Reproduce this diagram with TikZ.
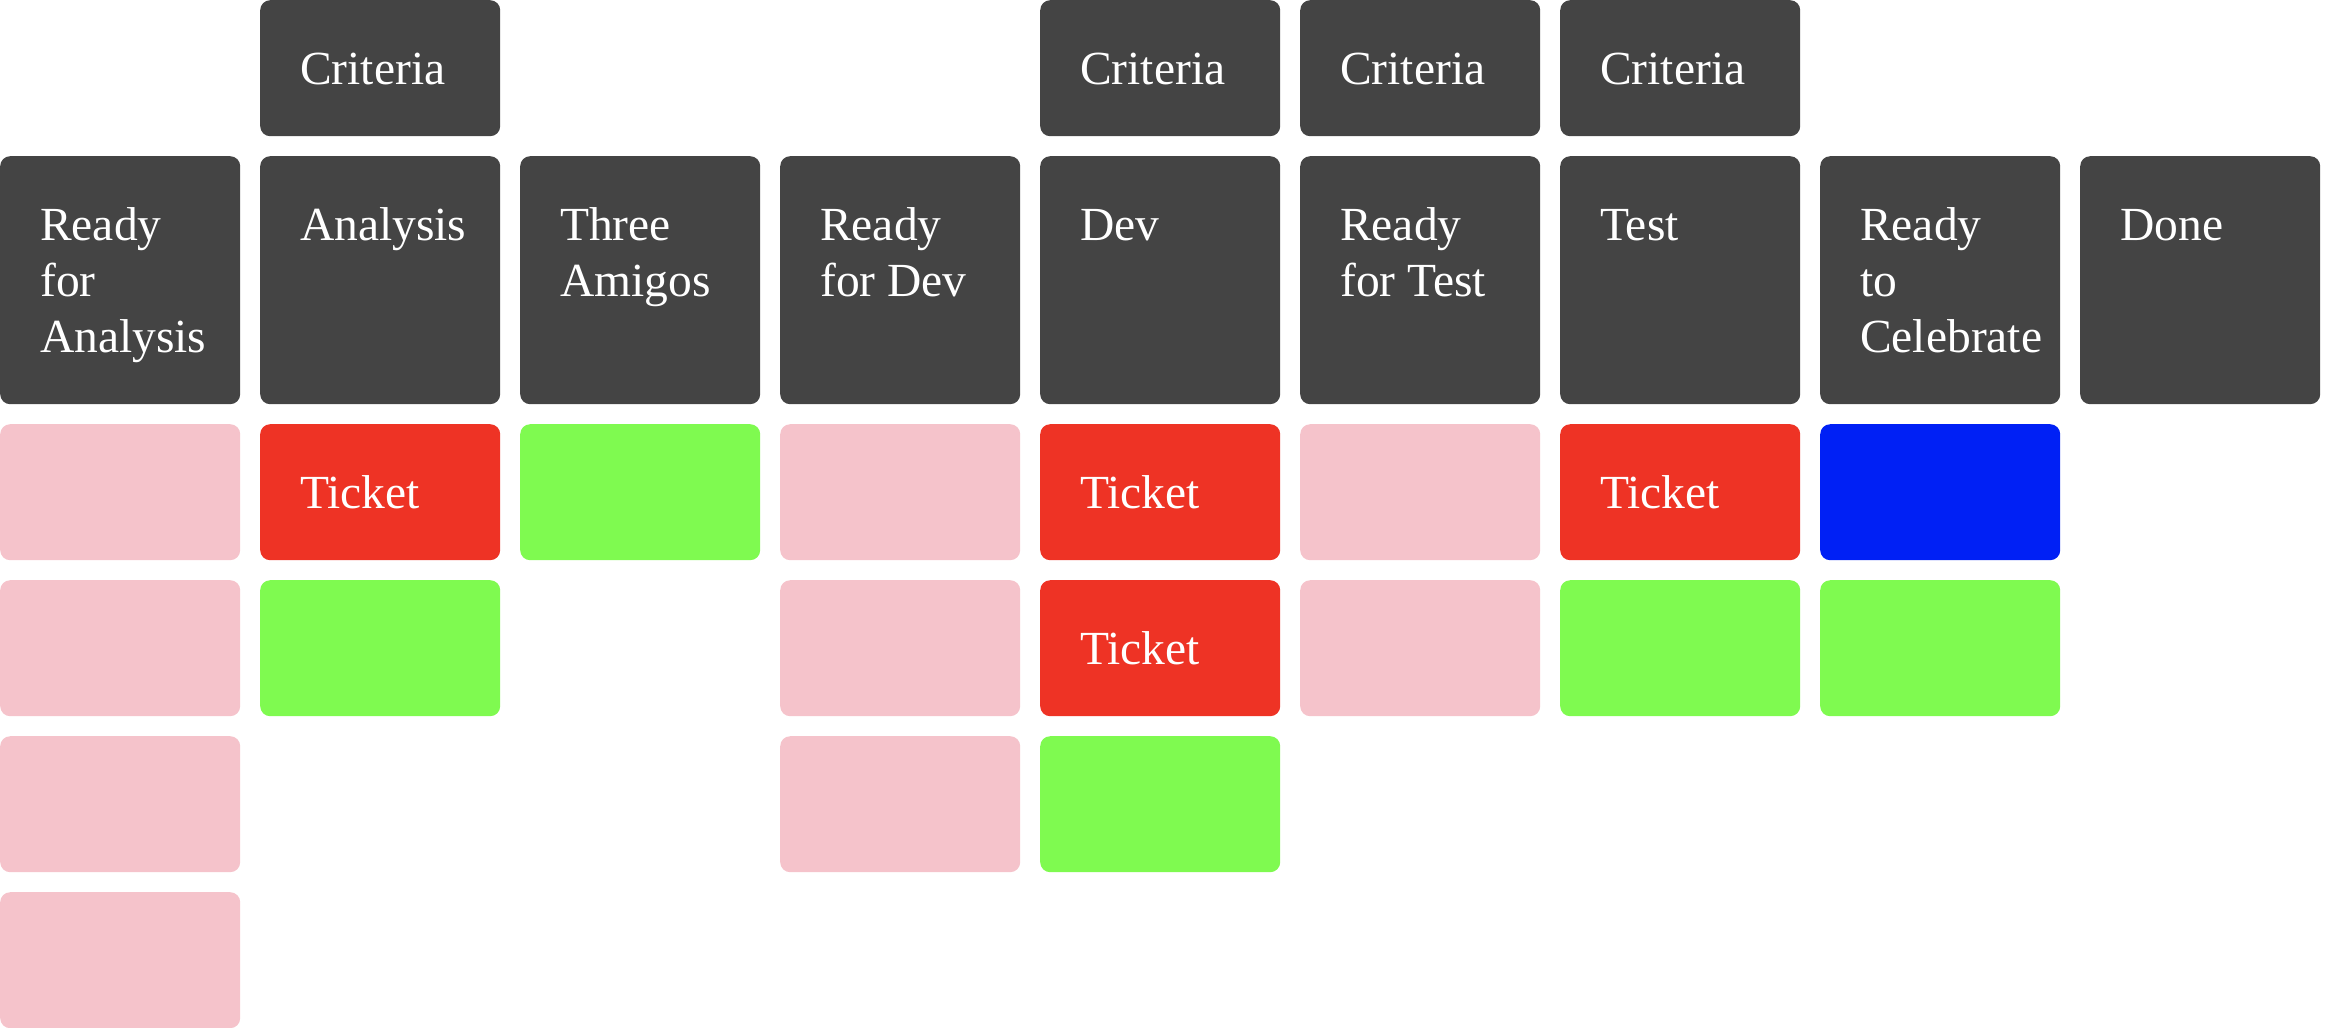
\documentclass[tikz,border=0pt]{standalone}
\usepackage{fontspec}
\setmainfont{Liberation Serif}
\definecolor{darkbox}{HTML}{444444}
\definecolor{pinkcard}{HTML}{F5C3CB}
\definecolor{redcard}{HTML}{EE3325}
\definecolor{greencard}{HTML}{7FFA50}
\definecolor{bluecard}{HTML}{0020F5}
\tikzset{
  box/.style={anchor=north west, inner sep=0pt, draw=none, rounded corners=10pt, minimum width=240pt},
  crit/.style={box, fill=darkbox, minimum height=136pt},
  hdr/.style={box, fill=darkbox, minimum height=248pt},
  pinkc/.style={box, fill=pinkcard, minimum height=136pt},
  redc/.style={box, fill=redcard, minimum height=136pt},
  greenc/.style={box, fill=greencard, minimum height=136pt},
  bluec/.style={box, fill=bluecard, minimum height=136pt},
  lbl/.style={anchor=base west, inner sep=0pt, text=white, font=\fontsize{47.5}{56}\selectfont}
}
\newcommand{\boxlabel}[3]{\node[lbl] (#1) at ([xshift=40pt,yshift=-84pt]#2.north west) {\parbox[t]{220pt}{#3}};}
\begin{document}
\begin{tikzpicture}
\useasboundingbox (0,0) rectangle (2340pt,-1028pt);
% criteria row
\node[crit] (c1) at (260pt,0) {};
\node[crit] (c4) at (1040pt,0) {};
\node[crit] (c5) at (1300pt,0) {};
\node[crit] (c6) at (1560pt,0) {};
\boxlabel{tc1}{c1}{Criteria}
\boxlabel{tc4}{c4}{Criteria}
\boxlabel{tc5}{c5}{Criteria}
\boxlabel{tc6}{c6}{Criteria}
% header row
\node[hdr] (h0) at (0pt,-156pt) {};
\node[hdr] (h1) at (260pt,-156pt) {};
\node[hdr] (h2) at (520pt,-156pt) {};
\node[hdr] (h3) at (780pt,-156pt) {};
\node[hdr] (h4) at (1040pt,-156pt) {};
\node[hdr] (h5) at (1300pt,-156pt) {};
\node[hdr] (h6) at (1560pt,-156pt) {};
\node[hdr] (h7) at (1820pt,-156pt) {};
\node[hdr] (h8) at (2080pt,-156pt) {};
\boxlabel{th0}{h0}{Ready\\for\\Analysis}
\boxlabel{th1}{h1}{Analysis}
\boxlabel{th2}{h2}{Three\\Amigos}
\boxlabel{th3}{h3}{Ready\\for Dev}
\boxlabel{th4}{h4}{Dev}
\boxlabel{th5}{h5}{Ready\\for Test}
\boxlabel{th6}{h6}{Test}
\boxlabel{th7}{h7}{Ready\\to\\Celebrate}
\boxlabel{th8}{h8}{Done}
% column 0
\node[pinkc] (k00) at (0pt,-424pt) {};
\node[pinkc] (k01) at (0pt,-580pt) {};
\node[pinkc] (k02) at (0pt,-736pt) {};
\node[pinkc] (k03) at (0pt,-892pt) {};
% column 1
\node[redc] (k10) at (260pt,-424pt) {};
\node[greenc] (k11) at (260pt,-580pt) {};
\boxlabel{tk10}{k10}{Ticket}
% column 2
\node[greenc] (k20) at (520pt,-424pt) {};
% column 3
\node[pinkc] (k30) at (780pt,-424pt) {};
\node[pinkc] (k31) at (780pt,-580pt) {};
\node[pinkc] (k32) at (780pt,-736pt) {};
% column 4
\node[redc] (k40) at (1040pt,-424pt) {};
\node[redc] (k41) at (1040pt,-580pt) {};
\node[greenc] (k42) at (1040pt,-736pt) {};
\boxlabel{tk40}{k40}{Ticket}
\boxlabel{tk41}{k41}{Ticket}
% column 5
\node[pinkc] (k50) at (1300pt,-424pt) {};
\node[pinkc] (k51) at (1300pt,-580pt) {};
% column 6
\node[redc] (k60) at (1560pt,-424pt) {};
\node[greenc] (k61) at (1560pt,-580pt) {};
\boxlabel{tk60}{k60}{Ticket}
% column 7
\node[bluec] (k70) at (1820pt,-424pt) {};
\node[greenc] (k71) at (1820pt,-580pt) {};
\end{tikzpicture}
\end{document}
